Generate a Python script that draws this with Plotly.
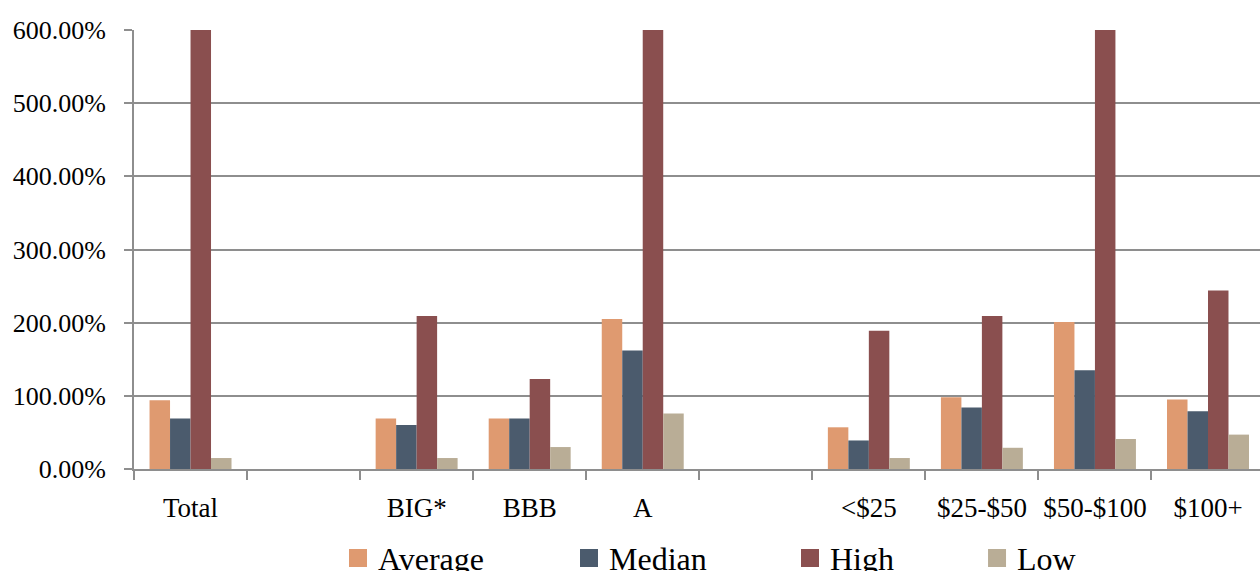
import plotly.graph_objects as go

# Categories (blank slots separate the groups)
categories = ["Total", " ", "BIG*", "BBB", "A", "  ", "<$25", "$25-$50", "$50-$100", "$100+"]

# Ratios (1.0 = 100%); None marks an empty spacer slot
average = [0.94, None, 0.69, 0.69, 2.05, None, 0.57, 0.98, 2.01, 0.95]
median = [0.69, None, 0.60, 0.69, 1.62, None, 0.39, 0.84, 1.35, 0.79]
high = [6.00, None, 2.09, 1.23, 6.00, None, 1.89, 2.09, 6.00, 2.44]
low = [0.15, None, 0.15, 0.30, 0.76, None, 0.15, 0.29, 0.41, 0.47]

series = [
    ("Average", average, "#DF9A70"),
    ("Median", median, "#4B5B6D"),
    ("High", high, "#8A4F4F"),
    ("Low", low, "#B9AD96"),
]

# One legend per series so each entry can sit at its own spot under the axis
legend_ids = ["legend", "legend2", "legend3", "legend4"]
legend_x = [0.1812, 0.3863, 0.5826, 0.7487]

FONT = "Liberation Serif"
GRID = "#8E8E8E"

fig = go.Figure()
for (name, vals, color), lid in zip(series, legend_ids):
    fig.add_trace(go.Bar(
        name=name, x=categories, y=vals, legendgroup=name, showlegend=False,
        marker=dict(color=color, line=dict(width=0)),
    ))
    # legend swatch (larger square than the default bar swatch)
    fig.add_trace(go.Scatter(
        name=name, x=[None], y=[None], mode="markers", legendgroup=name,
        legend=lid, showlegend=True, hoverinfo="skip",
        marker=dict(symbol="square", size=16, color=color,
                    line=dict(color=color, width=2)),
    ))

legend_style = dict(
    orientation="h", xanchor="left", y=-0.203, yanchor="middle",
    font=dict(family=FONT, size=32, color="black"),
    bgcolor="rgba(0,0,0,0)", itemclick="toggle",
)

fig.update_layout(
    width=1260, height=571,
    margin=dict(l=134, r=0, t=30, b=102, autoexpand=False),
    paper_bgcolor="white", plot_bgcolor="white",
    barmode="group", bargap=0.275, bargroupgap=0,
    font=dict(family=FONT, size=26, color="black"),
    showlegend=True,
    **{lid: dict(x=lx, **legend_style) for lid, lx in zip(legend_ids, legend_x)},
)

fig.update_xaxes(
    type="category", range=[-0.5, 9.46], tickangle=0,
    tickson="boundaries", ticks="outside", ticklen=9, tickwidth=2, tickcolor=GRID,
    showline=True, linecolor=GRID, linewidth=2,
    showgrid=False, ticklabelstandoff=14,
    tickfont=dict(family=FONT, size=27, color="black"),
)
fig.update_yaxes(
    range=[0, 6.0], tickvals=[0, 1, 2, 3, 4, 5, 6], tickformat=".2%",
    ticks="outside", ticklen=8, tickwidth=2, tickcolor=GRID,
    showline=True, linecolor=GRID, linewidth=2,
    showgrid=True, gridcolor=GRID, gridwidth=2,
    zeroline=False, ticklabelstandoff=13,
    tickfont=dict(family=FONT, size=26, color="black"),
)

fig.write_html("out.html")
